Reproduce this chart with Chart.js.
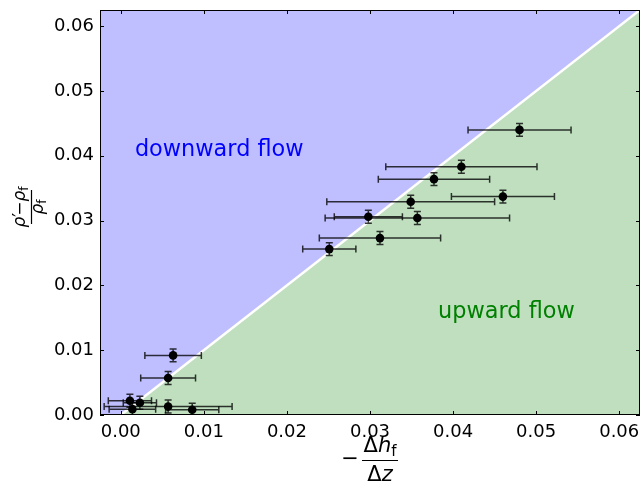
<!DOCTYPE html>
<html><head><meta charset="utf-8">
<script src="https://cdn.jsdelivr.net/npm/chart.js@4/dist/chart.umd.min.js"></script>
<style>html,body{margin:0;padding:0;background:#fff}#wrap{width:641px;height:488px;position:relative}</style>
</head><body><div id="wrap"><canvas id="c"></canvas></div>
<script>
// ---- data ----
const xValues = [0.0480, 0.0410, 0.0377, 0.0460, 0.0349, 0.0357, 0.0298, 0.0312, 0.0251, 0.0063, 0.0057, 0.0011, 0.0023, 0.0014, 0.0057, 0.0086];
const yValues = [0.0440, 0.0383, 0.0364, 0.0337, 0.0329, 0.0304, 0.0306, 0.0273, 0.0256, 0.0092, 0.0057, 0.0022, 0.0019, 0.0009, 0.0013, 0.0008];
const xErrors = [0.0062, 0.0091, 0.0067, 0.0062, 0.0101, 0.0111, 0.0041, 0.0073, 0.0032, 0.0034, 0.0033, 0.0026, 0.0020, 0.0028, 0.0077, 0.0032];
const yErrors = [0.0010, 0.0010, 0.0010, 0.0010, 0.0010, 0.0010, 0.0010, 0.0010, 0.0010, 0.0010, 0.0010, 0.0010, 0.0010, 0.0010, 0.0010, 0.0010];
const xTicks = [0.00, 0.01, 0.02, 0.03, 0.04, 0.05, 0.06];
const yTicks = [0.00, 0.01, 0.02, 0.03, 0.04, 0.05, 0.06];
const xRange = [-0.0025, 0.0625];
const yRange = [0, 0.0625];
const diagonalEnds = [-0.0025, 0.0625];
const regionNames = ['downward flow', 'upward flow'];
const regionAnchorsX = [0.0017, 0.0382];
const regionAnchorsY = [0.0408, 0.0158];

const points = xValues.map((x, i) => ({x: x, y: yValues[i]}));
const diag = diagonalEnds.map(v => ({x: v, y: v}));

const FONT = '"DejaVu Sans", sans-serif';

// pin the plot frame's right edge (Chart.js reserves room for the last tick label otherwise)
const frameFix = {
  id: 'frameFix',
  afterLayout(chart) {
    const s = chart.scales.x;
    const right = chart.width - 1;
    chart.chartArea.right = right;
    chart.chartArea.width = right - chart.chartArea.left;
    s.right = right;
    s.width = right - s.left;
    s.configure();
  }
};

const errorBars = {
  id: 'errorBars',
  beforeDatasetDraw(chart, args) {
    if (args.index !== 2) return;
    const {ctx, scales: {x, y}} = chart;
    const ca = chart.chartArea;
    ctx.save();
    ctx.beginPath();
    ctx.rect(ca.left, ca.top, ca.right - ca.left, ca.bottom - ca.top);
    ctx.clip();
    ctx.strokeStyle = 'rgba(0,0,0,0.78)';
    ctx.lineWidth = 1.5;
    const cap = 3.5;
    xValues.forEach((xv, i) => {
      const px = x.getPixelForValue(xv), py = y.getPixelForValue(yValues[i]);
      const x1 = x.getPixelForValue(xv - xErrors[i]), x2 = x.getPixelForValue(xv + xErrors[i]);
      const y1 = y.getPixelForValue(yValues[i] - yErrors[i]), y2 = y.getPixelForValue(yValues[i] + yErrors[i]);
      ctx.beginPath();
      ctx.moveTo(x1, py); ctx.lineTo(x2, py);
      ctx.moveTo(x1, py - cap); ctx.lineTo(x1, py + cap);
      ctx.moveTo(x2, py - cap); ctx.lineTo(x2, py + cap);
      ctx.moveTo(px, y1); ctx.lineTo(px, y2);
      ctx.moveTo(px - cap, y1); ctx.lineTo(px + cap, y1);
      ctx.moveTo(px - cap, y2); ctx.lineTo(px + cap, y2);
      ctx.stroke();
    });
    ctx.restore();
  }
};

function drawRuns(ctx, runs, cx, baseline, size) {
  let total = 0;
  const widths = runs.map(r => {
    ctx.font = (r.italic ? 'italic ' : '') + Math.round(size * (r.sub ? 0.7 : 1)) + 'px ' + FONT;
    const w = ctx.measureText(r.t).width + (r.gap || 0);
    total += w;
    return w;
  });
  let xpos = cx - total / 2;
  runs.forEach((r, i) => {
    ctx.font = (r.italic ? 'italic ' : '') + Math.round(size * (r.sub ? 0.7 : 1)) + 'px ' + FONT;
    ctx.textAlign = 'left';
    ctx.textBaseline = 'alphabetic';
    ctx.fillText(r.t, xpos, baseline + (r.sub ? size * 0.2 : 0));
    xpos += widths[i];
  });
  return total;
}

const decorations = {
  id: 'decorations',
  afterDatasetsDraw(chart) {
    const {ctx, scales: {x, y}} = chart;
    const ca = chart.chartArea;
    ctx.save();
    ctx.font = '22.4px ' + FONT;
    ctx.textAlign = 'left';
    ctx.textBaseline = 'middle';
    ctx.fillStyle = '#0000ff';
    ctx.fillText(regionNames[0], x.getPixelForValue(regionAnchorsX[0]), y.getPixelForValue(regionAnchorsY[0]));
    ctx.fillStyle = '#008000';
    ctx.fillText(regionNames[1], x.getPixelForValue(regionAnchorsX[1]), y.getPixelForValue(regionAnchorsY[1]));
    ctx.strokeStyle = '#000';
    ctx.lineWidth = 1;
    ctx.strokeRect(ca.left + 0.5, ca.top + 0.5, ca.right - ca.left - 1, ca.bottom - ca.top - 1);
    const L = 4;
    ctx.beginPath();
    xTicks.forEach(v => {
      const p = Math.round(x.getPixelForValue(v)) + 0.5;
      ctx.moveTo(p, ca.bottom); ctx.lineTo(p, ca.bottom - L);
      ctx.moveTo(p, ca.top); ctx.lineTo(p, ca.top + L);
    });
    yTicks.forEach(v => {
      const p = Math.round(y.getPixelForValue(v)) + 0.5;
      ctx.moveTo(ca.left, p); ctx.lineTo(ca.left + L, p);
      ctx.moveTo(ca.right, p); ctx.lineTo(ca.right - L, p);
    });
    ctx.stroke();
    ctx.restore();
  },
  afterDraw(chart) {
    const ctx = chart.ctx;
    ctx.save();
    ctx.fillStyle = '#000';
    ctx.strokeStyle = '#000';
    // x-axis title: −Δh_f / Δz
    const xs = 21;
    ctx.font = xs + 'px ' + FONT;
    ctx.textAlign = 'center';
    ctx.textBaseline = 'middle';
    ctx.fillText('\u2212', 350, 460);
    drawRuns(ctx, [{t: '\u0394'}, {t: 'h', italic: true}, {t: 'f', sub: true}], 380, 452, xs);
    drawRuns(ctx, [{t: '\u0394'}, {t: 'z', italic: true}], 380, 481, xs);
    ctx.lineWidth = 1.2;
    ctx.beginPath();
    ctx.moveTo(362, 460.5); ctx.lineTo(398, 460.5);
    ctx.stroke();
    // y-axis title: (ρ′−ρ_f)/ρ_f rotated
    ctx.translate(31, 207);
    ctx.rotate(-Math.PI / 2);
    const ys = 17;
    drawRuns(ctx, [{t: '\u03c1', italic: true}, {t: '\u2032', gap: -3}, {t: '\u2212'}, {t: '\u03c1', italic: true}, {t: 'f', sub: true}], 0, -6, ys);
    drawRuns(ctx, [{t: '\u03c1', italic: true}, {t: 'f', sub: true}], 0, 12, ys);
    ctx.lineWidth = 1.2;
    ctx.beginPath();
    ctx.moveTo(-17, 0.5); ctx.lineTo(17, 0.5);
    ctx.stroke();
    ctx.restore();
  }
};

new Chart(document.getElementById('c'), {
  type: 'scatter',
  data: {
    datasets: [
      {data: diag, showLine: true, fill: 'start', backgroundColor: '#bfdfbf', borderWidth: 0, pointRadius: 0, order: 3},
      {data: diag, showLine: true, fill: 'end', backgroundColor: '#bfbfff', borderColor: '#ffffff', borderWidth: 2.5, pointRadius: 0, order: 2},
      {data: points, backgroundColor: '#000', borderColor: '#000', borderWidth: 0, pointRadius: 4.3, order: 1}
    ]
  },
  options: {
    responsive: true,
    maintainAspectRatio: false,
    animation: false,
    events: [],
    layout: {padding: {left: 0, right: 1, top: 10, bottom: 0}},
    plugins: {legend: {display: false}, tooltip: {enabled: false}},
    scales: {
      x: {
        type: 'linear', min: xRange[0], max: xRange[1],
        grid: {display: false, drawTicks: false},
        border: {display: false},
        afterBuildTicks: s => { s.ticks = xTicks.map(v => ({value: v})); },
        afterFit: s => { s.height = 73; s.paddingLeft = 0; s.paddingRight = 0; },
        ticks: {padding: 7, color: '#000', font: {family: 'DejaVu Sans', size: 18}, maxRotation: 0, callback: v => v.toFixed(2)}
      },
      y: {
        type: 'linear', min: yRange[0], max: yRange[1],
        grid: {display: false, drawTicks: false},
        border: {display: false},
        afterBuildTicks: s => { s.ticks = yTicks.map(v => ({value: v})); },
        afterFit: s => { s.width = 100; s.paddingTop = 0; s.paddingBottom = 0; },
        ticks: {padding: 6, color: '#000', font: {family: 'DejaVu Sans', size: 18}, callback: v => v.toFixed(2)}
      }
    }
  },
  plugins: [frameFix, errorBars, decorations]
});
</script>
</body></html>
